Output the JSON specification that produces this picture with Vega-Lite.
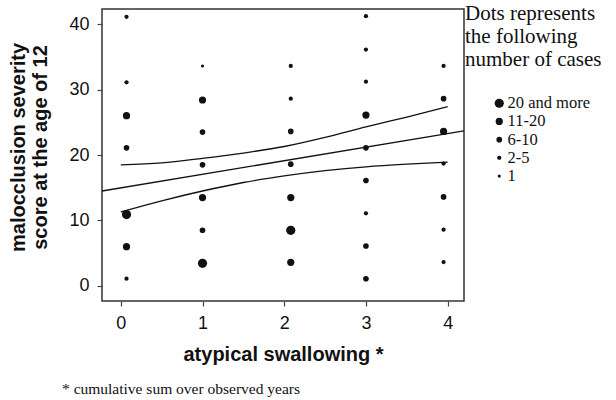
{
  "$schema": "https://vega.github.io/schema/vega-lite/v6.json",
  "width": 362,
  "height": 292,
  "autosize": {"type": "none"},
  "padding": {"left": 102, "top": 9, "right": 152, "bottom": 99},
  "background": "white",
  "config": {
    "view": {"stroke": "#333333", "strokeWidth": 1.5},
    "axis": {
      "domain": false,
      "grid": false,
      "ticks": true,
      "tickColor": "#444444",
      "tickSize": 5,
      "tickWidth": 1.2,
      "labelFont": "Liberation Sans",
      "labelFontSize": 18,
      "labelColor": "#111111",
      "labelPadding": 8,
      "titleFont": "Liberation Sans",
      "titleFontSize": 20,
      "titleFontWeight": "bold",
      "titleColor": "#111111"
    }
  },
  "title": {
    "text": "* cumulative sum over observed years",
    "orient": "bottom",
    "anchor": "start",
    "frame": "group",
    "font": "Liberation Serif",
    "fontSize": 15.5,
    "fontWeight": "normal",
    "color": "#111111",
    "dx": -40,
    "offset": 18
  },
  "datasets": {
    "dots": [
      {"x": 0.07, "y": 41.1, "cases": "2-5"},
      {"x": 0.07, "y": 31.1, "cases": "2-5"},
      {"x": 0.07, "y": 26.0, "cases": "11-20"},
      {"x": 0.07, "y": 21.1, "cases": "6-10"},
      {"x": 0.07, "y": 10.9, "cases": "20 and more"},
      {"x": 0.07, "y": 6.0, "cases": "11-20"},
      {"x": 0.07, "y": 1.1, "cases": "2-5"},
      {"x": 1.0, "y": 33.6, "cases": "1"},
      {"x": 1.0, "y": 28.4, "cases": "11-20"},
      {"x": 1.0, "y": 23.5, "cases": "6-10"},
      {"x": 1.0, "y": 18.5, "cases": "6-10"},
      {"x": 1.0, "y": 13.5, "cases": "11-20"},
      {"x": 1.0, "y": 8.5, "cases": "6-10"},
      {"x": 1.0, "y": 3.45, "cases": "20 and more"},
      {"x": 2.08, "y": 33.6, "cases": "2-5"},
      {"x": 2.08, "y": 28.6, "cases": "2-5"},
      {"x": 2.08, "y": 23.6, "cases": "6-10"},
      {"x": 2.08, "y": 18.6, "cases": "6-10"},
      {"x": 2.08, "y": 13.5, "cases": "11-20"},
      {"x": 2.08, "y": 8.5, "cases": "20 and more"},
      {"x": 2.08, "y": 3.6, "cases": "11-20"},
      {"x": 3.0, "y": 41.2, "cases": "2-5"},
      {"x": 3.0, "y": 36.1, "cases": "2-5"},
      {"x": 3.0, "y": 31.2, "cases": "2-5"},
      {"x": 3.0, "y": 26.1, "cases": "11-20"},
      {"x": 3.0, "y": 21.1, "cases": "6-10"},
      {"x": 3.0, "y": 16.1, "cases": "6-10"},
      {"x": 3.0, "y": 11.1, "cases": "2-5"},
      {"x": 3.0, "y": 6.1, "cases": "6-10"},
      {"x": 3.0, "y": 1.1, "cases": "6-10"},
      {"x": 3.95, "y": 33.6, "cases": "2-5"},
      {"x": 3.95, "y": 28.6, "cases": "6-10"},
      {"x": 3.95, "y": 23.6, "cases": "11-20"},
      {"x": 3.95, "y": 18.7, "cases": "2-5"},
      {"x": 3.95, "y": 13.6, "cases": "6-10"},
      {"x": 3.95, "y": 8.6, "cases": "2-5"},
      {"x": 3.95, "y": 3.65, "cases": "2-5"}
    ],
    "lines": [
      {"x": -0.23, "y": 14.5, "series": "fit"},
      {"x": 4.2, "y": 23.7, "series": "fit"},
      {"x": 0.0, "y": 18.5, "series": "upper"},
      {"x": 0.5, "y": 18.8, "series": "upper"},
      {"x": 1.0, "y": 19.5, "series": "upper"},
      {"x": 1.5, "y": 20.3, "series": "upper"},
      {"x": 2.0, "y": 21.3, "series": "upper"},
      {"x": 2.5, "y": 22.7, "series": "upper"},
      {"x": 3.0, "y": 24.3, "series": "upper"},
      {"x": 3.5, "y": 25.8, "series": "upper"},
      {"x": 4.0, "y": 27.4, "series": "upper"},
      {"x": 0.0, "y": 11.3, "series": "lower"},
      {"x": 0.5, "y": 13.0, "series": "lower"},
      {"x": 1.0, "y": 14.5, "series": "lower"},
      {"x": 1.5, "y": 15.8, "series": "lower"},
      {"x": 2.0, "y": 16.8, "series": "lower"},
      {"x": 2.5, "y": 17.6, "series": "lower"},
      {"x": 3.0, "y": 18.2, "series": "lower"},
      {"x": 3.5, "y": 18.6, "series": "lower"},
      {"x": 4.0, "y": 18.9, "series": "lower"}
    ]
  },
  "layer": [
    {
      "data": {"name": "lines"},
      "mark": {"type": "line", "color": "#111111", "strokeWidth": 1.3, "interpolate": "monotone", "clip": true},
      "encoding": {
        "x": {"field": "x", "type": "quantitative", "scale": {"domain": [-0.23, 4.2], "nice": false, "zero": false},
              "axis": {"values": [0, 1, 2, 3, 4], "format": "d", "title": "atypical swallowing *", "titlePadding": 12}},
        "y": {"field": "y", "type": "quantitative", "scale": {"domain": [-2.3, 42.3], "nice": false, "zero": false},
              "axis": {"values": [0, 10, 20, 30, 40], "format": "d", "title": ["malocclusion severity", "score at the age of 12"], "titlePadding": 18, "titleLineHeight": 22, "titleY": 138}},
        "detail": {"field": "series", "type": "nominal"}
      }
    },
    {
      "data": {"name": "dots"},
      "mark": {"type": "circle", "color": "#111111", "opacity": 1, "strokeWidth": 0},
      "encoding": {
        "x": {"field": "x", "type": "quantitative"},
        "y": {"field": "y", "type": "quantitative"},
        "size": {
          "field": "cases",
          "type": "ordinal",
          "scale": {"type": "ordinal", "domain": ["20 and more", "11-20", "6-10", "2-5", "1"], "range": [85, 52, 32, 18, 10]},
          "legend": {
            "title": ["Dots represents", "the following", "number of cases"],
            "orient": "none",
            "legendX": 363,
            "legendY": -6,
            "titleFont": "Liberation Serif",
            "titleFontSize": 21,
            "titleFontWeight": "normal",
            "titleColor": "#111111",
            "titleLineHeight": 23,
            "titlePadding": 25,
            "labelFont": "Liberation Serif",
            "labelFontSize": 16.5,
            "labelColor": "#111111",
            "symbolFillColor": "#111111",
            "symbolStrokeWidth": 0,
            "symbolOffset": 26,
            "labelOffset": 0,
            "rowPadding": 1.2,
            "encode": {
              "symbols": {
                "update": {
                  "size": {"signal": "datum.value === '20 and more' ? 36 : datum.value === '11-20' ? 28 : datum.value === '6-10' ? 18 : datum.value === '2-5' ? 11 : 4"}
                }
              }
            }
          }
        }
      }
    }
  ]
}
